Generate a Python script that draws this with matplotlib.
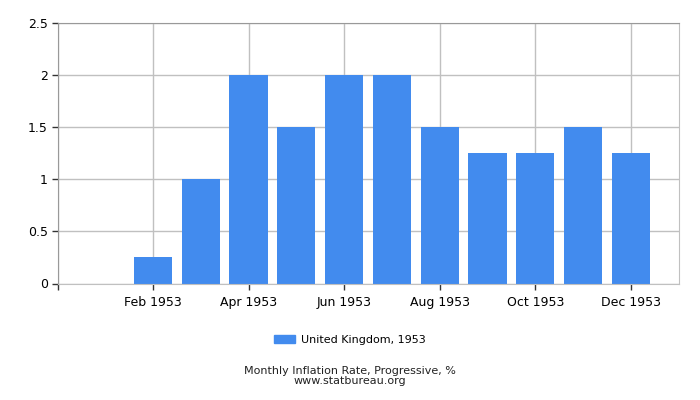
import matplotlib
matplotlib.use("Agg")
import matplotlib.pyplot as plt
from matplotlib.patches import Patch

# Monthly inflation, UK 1953 (progressive, %)
months = ["Jan", "Feb", "Mar", "Apr", "May", "Jun",
          "Jul", "Aug", "Sep", "Oct", "Nov", "Dec"]
values = [0, 0.25, 1, 2, 1.5, 2, 2, 1.5, 1.25, 1.25, 1.5, 1.25]
year = "1953"
series_name = "United Kingdom, 1953"

bar_color = "#428bee"
grid_color = "#c0c0c0"

fig = plt.figure(figsize=(7, 4), dpi=100)
ax = fig.add_axes([57.5 / 700, 1 - 283.5 / 400, 621 / 700, 261 / 400])

x = list(range(len(months)))
ax.bar(x, values, width=0.8, color=bar_color, zorder=2)

ax.set_xlim(-1, 12)
ax.set_ylim(0, 2.5)

# ticks every other month, plus one at left edge
xt = [-1] + x[1::2]
ax.set_xticks(xt)
ax.set_xticklabels([""] + [f"{months[i]} {year}" for i in x[1::2]], fontsize=9)
ax.set_yticks([0, 0.5, 1, 1.5, 2, 2.5])
ax.set_yticklabels(["0", "0.5", "1", "1.5", "2", "2.5"], fontsize=9)

ax.grid(True, color=grid_color, linewidth=1, zorder=0)
ax.tick_params(axis="both", length=4, color="#333333", width=1, pad=3)
ax.tick_params(axis="x", pad=5)

for side in ["left", "top"]:
    ax.spines[side].set_color("#999999")
for side in ["right", "bottom"]:
    ax.spines[side].set_color(grid_color)

fig.legend(handles=[Patch(color=bar_color, label=series_name)],
           loc="center", bbox_to_anchor=(0.5, 1 - 340 / 400),
           frameon=False, fontsize=8, handlelength=1.9, handleheight=0.8,
           handletextpad=0.5)

fig.text(0.5, 1 - 370.5 / 400, "Monthly Inflation Rate, Progressive, %",
         ha="center", va="center", fontsize=8, color="#222222")
fig.text(0.5, 1 - 381.5 / 400, "www.statbureau.org",
         ha="center", va="center", fontsize=8, color="#222222")

fig.savefig("out.png", dpi=100)
